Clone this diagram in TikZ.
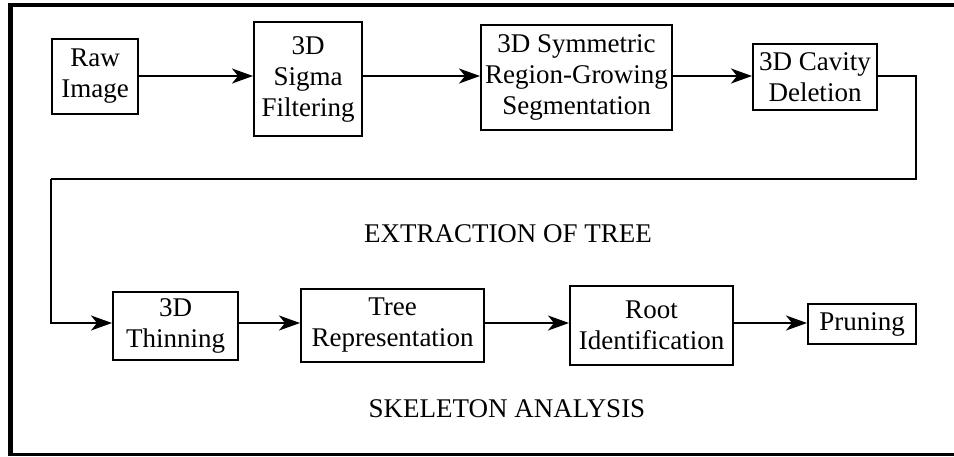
\documentclass[tikz,border=0pt]{standalone}
\usepackage{fontspec}
\setmainfont{Liberation Serif}
\usetikzlibrary{arrows.meta}
\begin{document}
\begin{tikzpicture}[x=1pt,y=-1pt,
  box/.style={draw=black,line width=2pt,inner sep=0pt,align=center,
    font=\fontsize{27}{31}\selectfont},
  lbl/.style={inner sep=0pt,font=\fontsize{27}{31}\selectfont},
  arr/.style={line width=2pt,-{Stealth[length=21pt,width=15pt,inset=6pt]}},
  frame/.style={draw=black}]
\useasboundingbox (0,0) rectangle (954,456);
% outer frame (top, left, bottom)
\draw[line width=4pt] (8,5) -- (954,5);
\draw[line width=5pt] (10.5,3) -- (10.5,456);
\draw[line width=3pt] (8,454.5) -- (954,454.5);
% top row
\node[box,minimum width=86pt,minimum height=75pt] (raw) at (95,76.5) {Raw\\Image};
\node[box,minimum width=108pt,minimum height=114pt] (sigma) at (308,79) {3D\\Sigma\\Filtering};
\node[box,minimum width=191pt,minimum height=105pt] (sym) at (576.5,77.5) {3D Symmetric\\Region-Growing\\Segmentation};
\node[box,minimum width=124pt,minimum height=66pt] (cav) at (815,77) {3D Cavity\\Deletion};
% bottom row
\node[box,minimum width=125pt,minimum height=68pt] (thin) at (175.5,326) {3D\\Thinning};
\node[box,minimum width=183pt,minimum height=73pt] (tree) at (392.5,325.5) {Tree\\Representation};
\node[box,minimum width=163pt,minimum height=79pt] (root) at (651.5,325.5) {Root\\Identification};
\node[box,minimum width=108pt,minimum height=40pt] (prun) at (862,324) {Pruning};
% labels
\node[lbl] (ext) at (508,234) {EXTRACTION OF TREE};
\node[lbl] (skel) at (507,409) {SKELETON ANALYSIS};
% connectors
\coordinate (ya) at (0,76);
\coordinate (yb) at (0,323);
\coordinate (k1) at (916,179);
\coordinate (k2) at (51,179);
\draw[arr] (raw.east |- ya) -- (sigma.west |- ya);
\draw[arr] (sigma.east |- ya) -- (sym.west |- ya);
\draw[arr] (sym.east |- ya) -- (cav.west |- ya);
\draw[line width=2pt] (cav.east |- ya) -| (k1) -- (k2);
\draw[arr] (k2) |- (thin.west |- yb);
\draw[arr] (thin.east |- yb) -- (tree.west |- yb);
\draw[arr] (tree.east |- yb) -- (root.west |- yb);
\draw[arr] (root.east |- yb) -- (prun.west |- yb);
\end{tikzpicture}
\end{document}
